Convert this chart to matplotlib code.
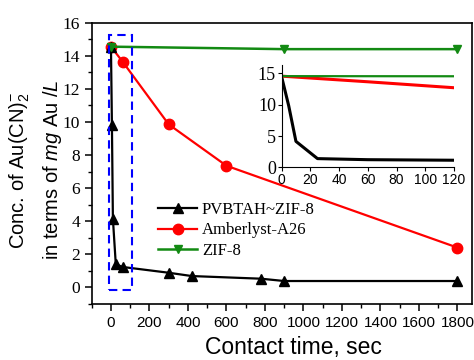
import matplotlib
matplotlib.use("Agg")
import matplotlib.pyplot as plt
from matplotlib.patches import Rectangle
from matplotlib.ticker import MultipleLocator

# ---------------------------
# Data
# ---------------------------
t_pvb = [0, 5, 10, 25, 60, 300, 420, 780, 900, 1800]
c_pvb = [14.5, 9.8, 4.15, 1.4, 1.23, 0.88, 0.68, 0.52, 0.38, 0.38]

t_amb = [0, 60, 300, 600, 1800]
c_amb = [14.55, 13.65, 9.85, 7.35, 2.4]

t_zif = [0, 900, 1800]
c_zif = [14.55, 14.4, 14.4]

labels = ["PVBTAH~ZIF-8", "Amberlyst-A26", "ZIF-8"]
colors = ["black", "#ff0000", "#138a13"]

x_ticks = list(range(0, 1801, 200))
y_ticks = list(range(0, 17, 2))
inset_x_ticks = list(range(0, 121, 20))
inset_y_ticks = [0, 5, 10, 15]

SANS = "Liberation Sans"
SERIF = "Liberation Serif"

# italic "mg" etc. in the axis label should look like Arial italic
plt.rcParams["mathtext.fontset"] = "custom"
plt.rcParams["mathtext.rm"] = SANS
plt.rcParams["mathtext.it"] = SANS + ":italic"

fig = plt.figure(figsize=(4.74, 3.6), dpi=100)
ax = fig.add_axes([0.1935, 0.156, 0.802, 0.781])

ax.plot(t_pvb, c_pvb, color=colors[0], lw=1.6, marker="^", ms=7.5, label=labels[0], zorder=3)
ax.plot(t_amb, c_amb, color=colors[1], lw=1.6, marker="o", ms=7.5, label=labels[1], zorder=2)
ax.plot(t_zif, c_zif, color=colors[2], lw=1.8, marker="v", ms=6, label=labels[2], zorder=4)

# dashed box marking the zoomed region
ax.add_patch(Rectangle((-12, -0.17), 122, 15.43, fill=False, edgecolor="#0000ff",
                       lw=1.5, ls=(0, (4, 2.5)), zorder=5))

ax.set_xlim(-100, 1875)
ax.set_ylim(-1, 16)
ax.set_xticks(x_ticks)
ax.set_yticks(y_ticks)
ax.xaxis.set_minor_locator(MultipleLocator(100))
ax.yaxis.set_minor_locator(MultipleLocator(1))
ax.tick_params(which="major", direction="out", length=5, width=1.1)
ax.tick_params(which="minor", direction="out", length=3, width=1.0)
for lab in ax.get_xticklabels():
    lab.set_fontfamily(SANS)
    lab.set_fontsize(11)
for lab in ax.get_yticklabels():
    lab.set_fontfamily(SERIF)
    lab.set_fontsize(12.5)
for sp in ax.spines.values():
    sp.set_linewidth(1.2)

ax.set_xlabel("Contact time, sec", family=SANS, fontsize=16.5)
ax.xaxis.set_label_coords(0.53, -0.115)
ax.set_ylabel("Conc. of Au(CN)$_2^{-}$\nin terms of $mg$ Au $/L$", family=SANS,
              fontsize=14.5, linespacing=1.5)
ax.yaxis.set_label_coords(-0.074, 0.476)

leg = ax.legend(loc="upper left", bbox_to_anchor=(0.158, 0.385), frameon=False,
                prop={"family": SERIF, "size": 12}, handlelength=2.3,
                handletextpad=0.3, labelspacing=0.25, borderaxespad=0)

# ---------------------------
# Inset: first 120 s
# ---------------------------
ins = fig.add_axes([0.594, 0.535, 0.364, 0.284])
ins.patch.set_alpha(0)
ins.plot(t_pvb, c_pvb, color=colors[0], lw=2.2)
ins.plot(t_amb, c_amb, color=colors[1], lw=2.2)
ins.plot(t_zif, c_zif, color=colors[2], lw=1.6)
ins.set_xlim(0, 120)
ins.set_ylim(0, 16.3)
ins.set_xticks(inset_x_ticks)
ins.set_yticks(inset_y_ticks)
ins.spines["top"].set_visible(False)
ins.spines["right"].set_visible(False)
ins.tick_params(direction="out", length=3, width=0.8, pad=1)
for lab in ins.get_xticklabels():
    lab.set_fontfamily(SANS)
    lab.set_fontsize(10)
for lab in ins.get_yticklabels():
    lab.set_fontfamily(SERIF)
    lab.set_fontsize(13)

fig.savefig("out.png", dpi=100)
